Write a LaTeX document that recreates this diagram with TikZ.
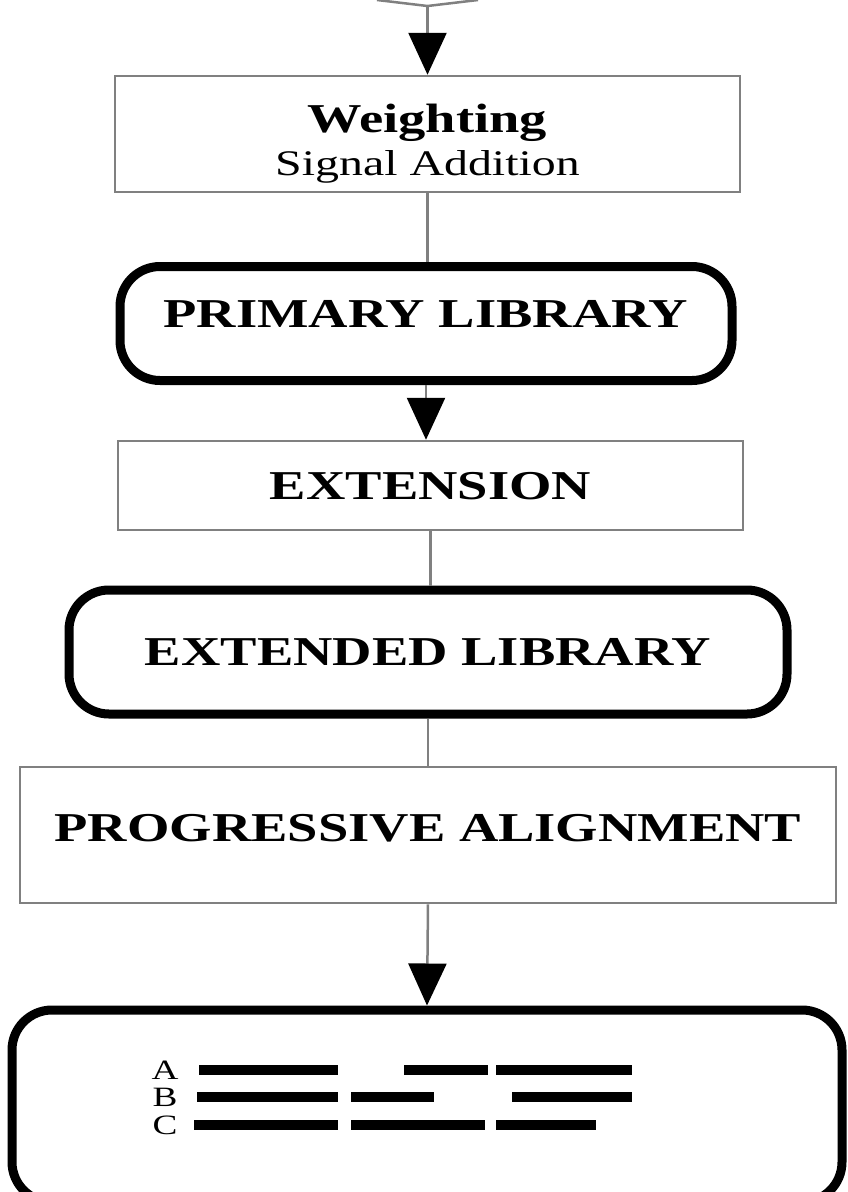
\documentclass[tikz,border=0pt]{standalone}
\usepackage{fontspec}
\setmainfont{Liberation Serif}[FakeStretch=1.33]
\usetikzlibrary{arrows.meta}

\tikzset{
  thinbox/.style={draw=black!50, line width=2.5pt, inner sep=0pt},
  libbox/.style={draw, line width=9pt, rounded corners=40pt, inner sep=0pt},
  capline/.style={text height=30pt, text depth=#1},
  capline/.default=3pt,
  big/.style={font=\fontsize{41}{44}\selectfont\bfseries},
  link/.style={draw=black!50, line width=2.5pt},
  flow/.style={link, -{Triangle[length=42pt,width=38pt,color=black]}},
  seqlabel/.style={inner sep=0pt, font=\fontsize{28}{28}\selectfont},
  seqbar/.style={line width=10pt}
}

\begin{document}
\begin{tikzpicture}[x=1pt, y=-1pt]
    \useasboundingbox (0,0) rectangle (848,1192);
    \clip (0,0) rectangle (848,1192);

    \coordinate (inl) at (377,0);
    \coordinate (inr) at (478,0);
    \coordinate (join) at (427.5,6);

    \node[thinbox, minimum width=625pt, minimum height=116pt, align=center] (weight) at (427.5,134)
        {{\fontsize{41}{44}\selectfont\bfseries\rule{0pt}{48pt}Weighting}\\[8pt]{\fontsize{36}{40}\selectfont Signal Addition}};
    \node[libbox, big, capline=22pt, minimum width=612pt, minimum height=114pt] (primary) at (426,323.5) {PRIMARY LIBRARY};
    \node[thinbox, big, capline, minimum width=625pt, minimum height=89pt] (extension) at (430.5,485.5) {EXTENSION};
    \node[libbox, big, capline, minimum width=718pt, minimum height=124pt] (extended) at (428,652) {EXTENDED LIBRARY};
    \node[thinbox, big, capline=17pt, minimum width=816pt, minimum height=136pt] (progressive) at (428,835) {PROGRESSIVE ALIGNMENT};
    \node[libbox, minimum width=830pt, minimum height=192pt] (result) at (427,1106) {};

    \node[seqlabel] (seqa) at (165,1070) {A};
    \node[seqlabel] (seqb) at (165,1097) {B};
    \node[seqlabel] (seqc) at (165,1125) {C};
    \draw[seqbar] (199,1070) -- (338,1070) (404,1070) -- (488,1070) (496,1070) -- (632,1070);
    \draw[seqbar] (197,1097) -- (338,1097) (351,1097) -- (434,1097) (512,1097) -- (632,1097);
    \draw[seqbar] (194,1125) -- (338,1125) (351,1125) -- (485,1125) (496,1125) -- (596,1125);

    \draw[link] (inl) -- (join) -- (inr);
    \draw[flow] (join) -- (weight.north);
    \draw[link] (weight.south) -- (weight.south |- primary.north);
    \draw[flow] (primary.south) -- (primary.south |- extension.north);
    \draw[link] (extension.south) -- (extension.south |- extended.north);
    \draw[link] (extended.south) -- (progressive.north);
    \draw[flow] (progressive.south) -- (result.north);
\end{tikzpicture}
\end{document}
